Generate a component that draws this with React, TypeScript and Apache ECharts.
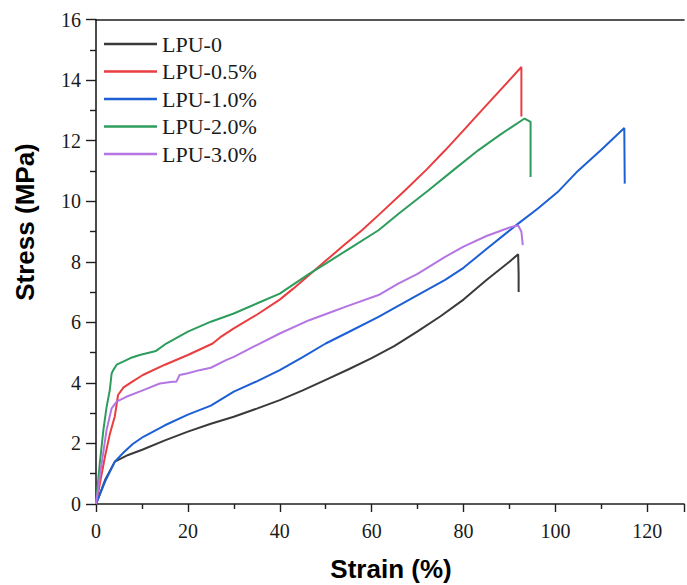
import React, { useEffect, useRef } from "react";
import * as echarts from "echarts";

const seriesNames = ["LPU-0", "LPU-0.5%", "LPU-1.0%", "LPU-2.0%", "LPU-3.0%"];
const seriesColors = ["#3a3a3a", "#ea3d3f", "#1d5fd4", "#2e9c5c", "#b476e2"];

const strain0 = [0, 2, 4.1, 7, 10.2, 15, 20, 25, 30, 35, 40, 45, 50, 55, 60, 65, 70, 75, 80, 85, 90, 91.9, 92, 92];
const stress0 = [0, 0.8, 1.4, 1.62, 1.8, 2.1, 2.39, 2.65, 2.88, 3.15, 3.43, 3.75, 4.1, 4.45, 4.82, 5.22, 5.7, 6.2, 6.75, 7.4, 8.0, 8.25, 7.6, 7.0];

const strain05 = [0, 1, 2, 3, 4.1, 4.8, 6, 8, 10.2, 15, 20, 25.4, 27, 30, 35, 40, 43, 46.4, 50, 54, 57.9, 61.5, 67.3, 72, 76, 80, 85, 90, 92.6, 92.6];
const stress05 = [0, 0.8, 1.6, 2.3, 2.9, 3.6, 3.85, 4.05, 4.26, 4.6, 4.92, 5.3, 5.5, 5.8, 6.25, 6.75, 7.12, 7.56, 8.03, 8.55, 9.04, 9.54, 10.36, 11.05, 11.68, 12.34, 13.17, 14.0, 14.43, 12.8];

const strain10 = [0, 2, 4.1, 6, 8, 10.3, 15, 20, 25, 30, 35, 40, 45, 50, 55, 61.5, 65, 70, 76, 80, 85, 91.9, 96.2, 100.5, 104.9, 110, 115, 115.1];
const stress10 = [0, 0.75, 1.4, 1.7, 1.98, 2.22, 2.6, 2.95, 3.25, 3.71, 4.05, 4.42, 4.85, 5.3, 5.68, 6.18, 6.48, 6.9, 7.4, 7.8, 8.42, 9.26, 9.76, 10.3, 11.0, 11.7, 12.42, 10.58];

const strain20 = [0, 0.8, 1.6, 2.3, 3.0, 3.4, 3.75, 4.5, 5.9, 7.5, 9.5, 12.4, 13, 15.3, 20, 25, 30, 35, 40, 46.4, 50, 55, 61.5, 66, 72.4, 78, 83.2, 88, 93.3, 94.6, 94.6];
const stress20 = [0, 1.3, 2.44, 3.2, 3.76, 4.31, 4.42, 4.6, 4.7, 4.82, 4.92, 5.03, 5.05, 5.3, 5.69, 6.02, 6.29, 6.62, 6.95, 7.6, 7.94, 8.42, 9.04, 9.6, 10.36, 11.05, 11.68, 12.2, 12.73, 12.62, 10.8];

const strain30 = [0, 1, 2.3, 3.4, 4.5, 6.6, 10.3, 13.9, 16.7, 17.5, 18.2, 20, 22.5, 25, 28.3, 30, 35, 40, 46.4, 51.4, 55, 61.5, 65.8, 70, 76, 80, 85, 90.4, 91.9, 92.6, 92.9];
const stress30 = [0, 1.1, 2.44, 3.16, 3.38, 3.54, 3.76, 3.98, 4.04, 4.04, 4.26, 4.32, 4.42, 4.5, 4.75, 4.86, 5.25, 5.63, 6.07, 6.35, 6.55, 6.9, 7.28, 7.6, 8.16, 8.5, 8.85, 9.15, 9.2, 9.0, 8.55];

const strainSets = [strain0, strain05, strain10, strain20, strain30];
const stressSets = [stress0, stress05, stress10, stress20, stress30];

const xMin = 0;
const xMax = 128;
const xInterval = 20;
const yMin = 0;
const yMax = 16;
const yInterval = 2;

const xTitle = "Strain (%)";
const yTitle = "Stress (MPa)";

export default function App() {
  const ref = useRef<HTMLDivElement>(null);

  useEffect(() => {
    document.body.style.margin = "0";
    const chart = echarts.init(ref.current!, null, { renderer: "svg" });
    const axisColor = "#1e1e1e";
    const serif = "Liberation Serif";

    const series = seriesNames.map((name, i) => ({
      name,
      type: "line",
      data: strainSets[i].map((x, j) => [x, stressSets[i][j]]),
      symbol: "none",
      showSymbol: false,
      color: seriesColors[i],
      lineStyle: { width: 2, color: seriesColors[i] },
      z: 3,
    }));

    chart.setOption({
      animation: false,
      backgroundColor: "#ffffff",
      grid: { left: 96, right: 0, top: 19.5, bottom: 81, containLabel: false },
      legend: {
        orient: "vertical",
        left: 104,
        top: 33,
        padding: 0,
        icon: "rect",
        itemWidth: 53,
        itemHeight: 2.5,
        itemGap: 5.5,
        data: seriesNames,
        textStyle: { fontFamily: serif, fontSize: 22, color: "#1a1a1a", lineHeight: 22 },
      },
      xAxis: [
        {
          type: "value",
          min: xMin,
          max: xMax,
          interval: xInterval,
          position: "bottom",
          axisLine: { show: true, onZero: false, lineStyle: { color: axisColor, width: 1.6 } },
          axisTick: { show: true, inside: false, length: 8, lineStyle: { color: axisColor, width: 1.4 } },
          minorTick: { show: true, splitNumber: 2, length: 5, lineStyle: { color: axisColor, width: 1.4 } },
          splitLine: { show: false },
          axisLabel: {
            fontFamily: serif,
            fontSize: 20,
            color: "#1a1a1a",
            margin: 17,
            formatter: (v: number) => (v > 120 ? "" : String(v)),
          },
        },
        {
          type: "value",
          min: xMin,
          max: xMax,
          interval: xInterval,
          position: "top",
          axisLine: { show: true, onZero: false, lineStyle: { color: axisColor, width: 1.6 } },
          axisTick: { show: false },
          axisLabel: { show: false },
          splitLine: { show: false },
        },
      ],
      yAxis: {
        type: "value",
        min: yMin,
        max: yMax,
        interval: yInterval,
        axisLine: { show: true, onZero: false, lineStyle: { color: axisColor, width: 1.6 } },
        axisTick: { show: true, inside: false, length: 10, lineStyle: { color: axisColor, width: 1.4 } },
        minorTick: { show: true, splitNumber: 2, length: 6, lineStyle: { color: axisColor, width: 1.4 } },
        splitLine: { show: false },
        axisLabel: { fontFamily: serif, fontSize: 20, color: "#1a1a1a", margin: 15 },
      },
      series,
      graphic: [
        {
          type: "text",
          x: 391,
          y: 569,
          style: {
            text: xTitle,
            font: "bold 26px 'Liberation Sans'",
            fill: "#000",
            align: "center",
            verticalAlign: "middle",
          },
        },
        {
          type: "text",
          x: 25,
          y: 222,
          rotation: Math.PI / 2,
          style: {
            text: yTitle,
            font: "bold 26px 'Liberation Sans'",
            fill: "#000",
            align: "center",
            verticalAlign: "middle",
          },
        },
      ],
    });

    return () => chart.dispose();
  }, []);

  return <div ref={ref} style={{ width: 687, height: 585 }} />;
}
